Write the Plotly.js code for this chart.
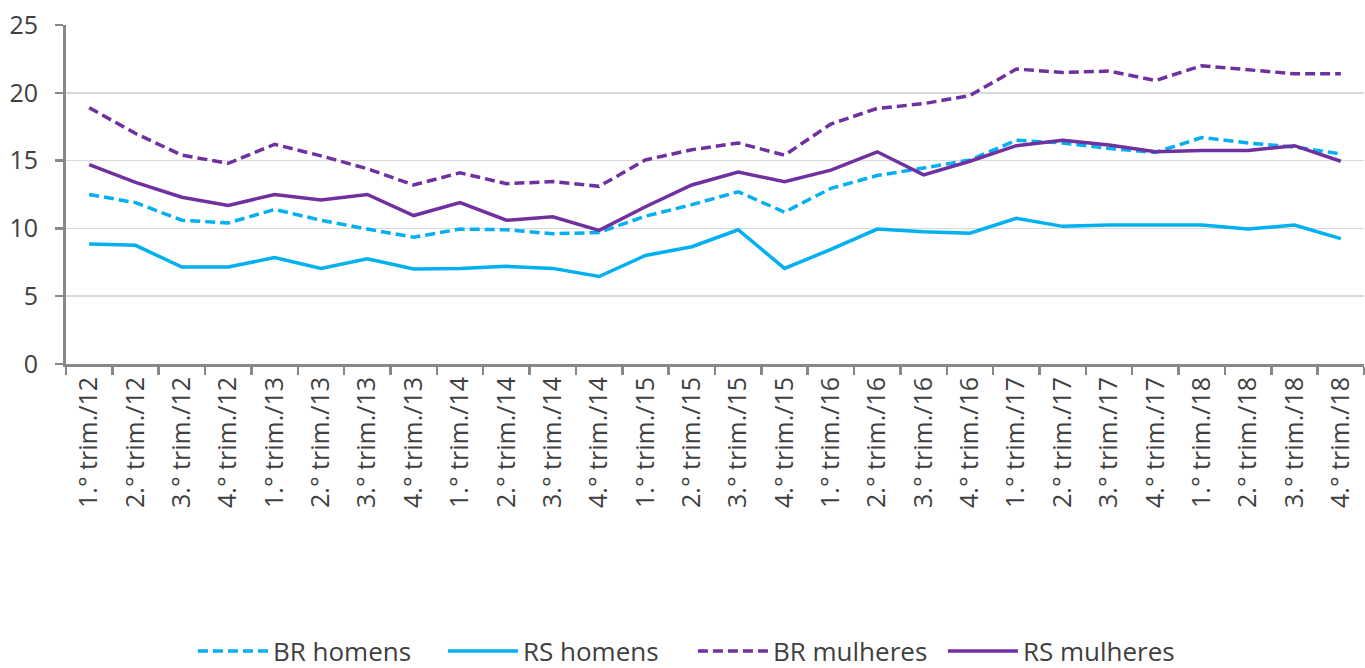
<!DOCTYPE html>
<html>
<head>
<meta charset="utf-8">
<script src="https://cdn.plot.ly/plotly-3.0.1.min.js"></script>
<style>html,body{margin:0;padding:0;background:#fff;}#chart{width:1365px;height:668px;}</style>
</head>
<body>
<div id="chart"></div>
<script>
const categories = [
  "1.° trim./12","2.° trim./12","3.° trim./12","4.° trim./12",
  "1.° trim./13","2.° trim./13","3.° trim./13","4.° trim./13",
  "1.° trim./14","2.° trim./14","3.° trim./14","4.° trim./14",
  "1.° trim./15","2.° trim./15","3.° trim./15","4.° trim./15",
  "1.° trim./16","2.° trim./16","3.° trim./16","4.° trim./16",
  "1.° trim./17","2.° trim./17","3.° trim./17","4.° trim./17",
  "1.° trim./18","2.° trim./18","3.° trim./18","4.° trim./18"
];
const brHomens = [12.5,11.9,10.6,10.4,11.4,10.6,9.95,9.35,9.95,9.9,9.6,9.7,10.9,11.75,12.7,11.2,12.95,13.9,14.45,15.05,16.5,16.3,15.9,15.6,16.7,16.3,16.0,15.5];
const rsHomens = [8.85,8.75,7.15,7.15,7.85,7.05,7.75,7.0,7.05,7.2,7.05,6.45,8.0,8.65,9.9,7.05,8.45,9.95,9.75,9.65,10.75,10.15,10.25,10.25,10.25,9.95,10.25,9.25];
const brMulheres = [18.9,17.0,15.4,14.8,16.2,15.35,14.4,13.2,14.1,13.3,13.45,13.1,15.05,15.8,16.3,15.4,17.7,18.85,19.2,19.8,21.75,21.5,21.6,20.9,22.0,21.7,21.4,21.4];
const rsMulheres = [14.7,13.4,12.3,11.7,12.5,12.1,12.5,10.95,11.9,10.6,10.85,9.85,11.6,13.2,14.15,13.45,14.3,15.65,13.95,14.95,16.1,16.5,16.15,15.65,15.75,15.75,16.1,14.95];
const seriesNames = ["BR homens","RS homens","BR mulheres","RS mulheres"];

const blue = "#00B0F0", purple = "#7030A0";
const dashPat = "10px,5px";
const traces = [
  {x: categories, y: brHomens, name: seriesNames[0], mode: "lines", line: {color: blue, width: 3.5, dash: dashPat}},
  {x: categories, y: rsHomens, name: seriesNames[1], mode: "lines", line: {color: blue, width: 3.5}},
  {x: categories, y: brMulheres, name: seriesNames[2], mode: "lines", line: {color: purple, width: 3.5, dash: dashPat}},
  {x: categories, y: rsMulheres, name: seriesNames[3], mode: "lines", line: {color: purple, width: 3.5}}
];
const font = "'Open Sans', sans-serif";
const layout = {
  width: 1365, height: 668,
  margin: {l: 66, r: 1, t: 25, b: 304, autoexpand: false},
  paper_bgcolor: "#fff", plot_bgcolor: "#fff",
  font: {family: font, color: "#404040", size: 22},
  showlegend: true,
  legend: {orientation: "h", x: 0.483, xanchor: "center", y: -0.847, yanchor: "middle",
           font: {family: font, size: 26, color: "#404040"}, itemwidth: 70, entrywidth: 165, traceorder: "normal"},
  xaxis: {
    type: "category", range: [-0.5, 27.5], showgrid: false, showline: true, linecolor: "#888", linewidth: 3,
    ticks: "outside", tickson: "boundaries", ticklen: 8, tickwidth: 2.5, tickcolor: "#888",
    tickangle: -90, tickfont: {family: font, size: 25, color: "#404040"}, zeroline: false, automargin: false
  },
  yaxis: {
    range: [0, 25], dtick: 5, showgrid: true, gridcolor: "#d9d9d9", gridwidth: 1.5,
    showline: true, linecolor: "#888", linewidth: 3, ticks: "outside", ticklen: 8, tickwidth: 2.5,
    tickcolor: "#888", zeroline: false, ticklabelstandoff: 12, automargin: false,
    tickfont: {family: font, size: 25, color: "#404040"}
  }
};
Plotly.newPlot("chart", traces, layout, {displayModeBar: false, staticPlot: true});
</script>
</body>
</html>
